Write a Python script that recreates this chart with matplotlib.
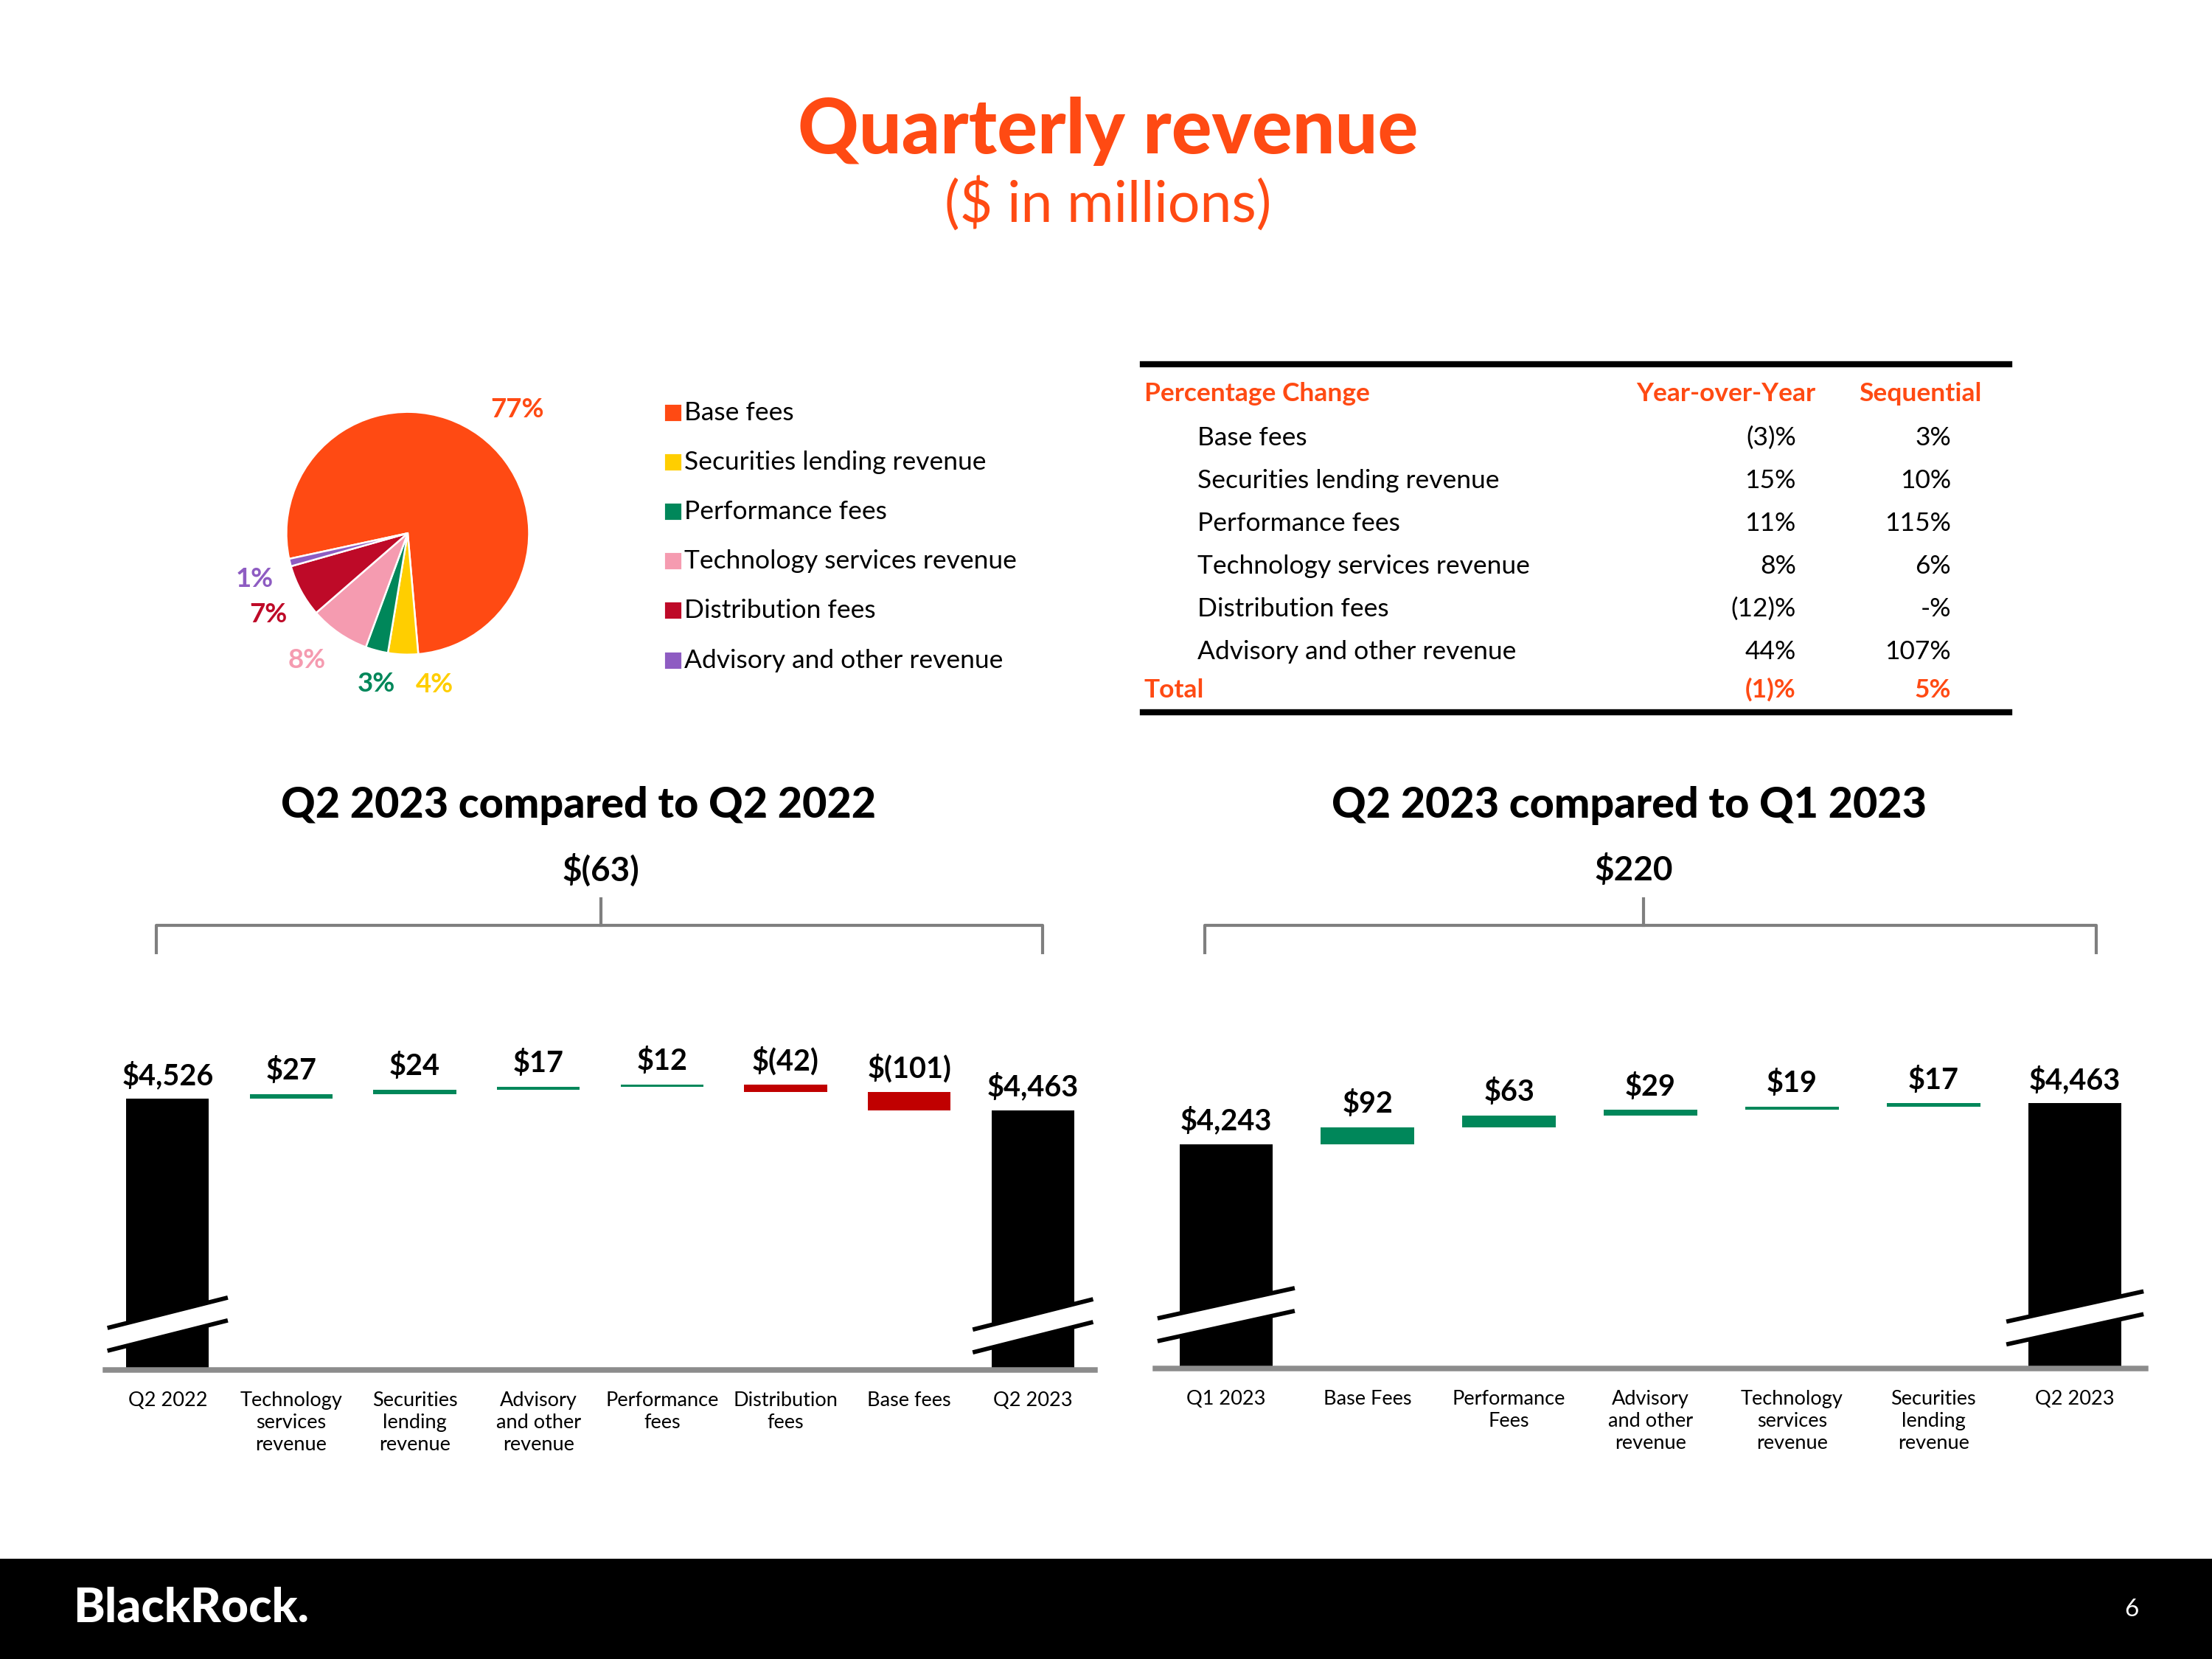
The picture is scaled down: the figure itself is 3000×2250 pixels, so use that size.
import matplotlib.pyplot as plt
import matplotlib.transforms as mtransforms
from matplotlib.lines import Line2D
from matplotlib.patches import Rectangle, Polygon
import numpy as np

plt.rcParams["font.family"] = ["Lato", "DejaVu Sans"]

ORANGE = "#FF4A13"
GREEN = "#00875A"
RED = "#C00000"
GRAY = "#8C8C8C"

# revenue mix (pie + legend)
mix_labels = ["Base fees", "Securities lending revenue", "Performance fees",
              "Technology services revenue", "Distribution fees",
              "Advisory and other revenue"]
mix_pct = [77, 4, 3, 8, 7, 1]
mix_colors = [ORANGE, "#FFCE00", "#00875A", "#F59BB0", "#BE0A28", "#8E5CC2"]

# percentage change table
yoy_pct = ["(3)%", "15%", "11%", "8%", "(12)%", "44%"]
seq_pct = ["3%", "10%", "115%", "6%", "-%", "107%"]
total_yoy = "(1)%"
total_seq = "5%"

# year-over-year walk
yoy_cats = ["Q2 2022", "Technology\nservices\nrevenue", "Securities\nlending\nrevenue",
            "Advisory\nand other\nrevenue", "Performance\nfees", "Distribution\nfees",
            "Base fees", "Q2 2023"]
yoy_start = 4526
yoy_deltas = [27, 24, 17, 12, -42, -101]
yoy_end = 4463
yoy_change = "$(63)"

# sequential walk
seq_cats = ["Q1 2023", "Base Fees", "Performance\nFees", "Advisory\nand other\nrevenue",
            "Technology\nservices\nrevenue", "Securities\nlending\nrevenue", "Q2 2023"]
seq_start = 4243
seq_deltas = [92, 63, 29, 19, 17]
seq_end = 4463
seq_change = "$220"


def money(v):
    return f"${v:,}" if v >= 0 else f"$({-v:,})"


def add_break(ax, xc, yu, rise=0.045, gap=0.07, hw=0.47):
    tr = mtransforms.blended_transform_factory(ax.transData, ax.transAxes)
    band = Polygon([(xc - hw, yu - rise - gap), (xc + hw, yu + rise - gap),
                    (xc + hw, yu + rise), (xc - hw, yu - rise)],
                   closed=True, facecolor="white", edgecolor="none",
                   transform=tr, zorder=3, clip_on=False)
    ax.add_patch(band)
    for off in (0, -gap):
        ax.add_line(Line2D([xc - hw, xc + hw], [yu - rise + off, yu + rise + off],
                           color="black", lw=1.4, transform=tr, zorder=4,
                           clip_on=False))


def waterfall(rect, cats, start, deltas, end, ylim, width, breaks):
    ax = fig.add_axes(rect)
    n = len(cats)
    cum = start + np.cumsum(deltas)
    prev = np.concatenate([[start], cum[:-1]])
    ax.bar(0, start, width=width, color="black", zorder=2)
    ax.bar(n - 1, end, width=width, color="black", zorder=2)
    ax.bar(np.arange(1, n - 1), deltas, bottom=prev, width=width,
           color=[GREEN if d > 0 else RED for d in deltas], zorder=2)
    tops = [start] + list(np.maximum(prev, cum)) + [end]
    vals = [start] + list(deltas) + [end]
    for i, (t, v) in enumerate(zip(tops, vals)):
        ax.annotate(money(v), (i, t), xytext=(0, 3), textcoords="offset points",
                    ha="center", va="bottom", fontsize=9.5, fontweight="bold",
                    annotation_clip=False)
    ax.set_xlim(-0.5, n - 0.5)
    ax.set_ylim(*ylim)
    ax.set_xticks(range(n))
    ax.set_xticklabels(cats, fontsize=6.5, linespacing=1.25)
    ax.tick_params(axis="x", length=0, pad=7)
    ax.set_yticks([])
    for s in ("left", "right", "top"):
        ax.spines[s].set_visible(False)
    ax.spines["bottom"].set_color(GRAY)
    ax.spines["bottom"].set_linewidth(1.8)
    ax.spines["bottom"].set_zorder(5)
    for xc, yu in breaks:
        add_break(ax, xc, yu)
    return ax


fig = plt.figure(figsize=(10, 7.5), dpi=300)

# title
fig.text(0.501, 0.921, "Quarterly revenue", ha="center", va="center",
         fontsize=24.5, fontweight="black", color=ORANGE)
fig.text(0.501, 0.877, "($ in millions)", ha="center", va="center",
         fontsize=18.5, color=ORANGE)

# pie
r_w, r_h = 86 / 1568, 86 / 1176
pax = fig.add_axes([289 / 1568 - r_w, 1 - 378 / 1176 - r_h, 2 * r_w, 2 * r_h])
wedges, texts = pax.pie(mix_pct, colors=mix_colors, startangle=192.2,
                        counterclock=False, labels=[f"{p}%" for p in mix_pct],
                        labeldistance=1.3,
                        wedgeprops=dict(edgecolor="white", linewidth=0.6))
label_pos = [(0.9, 1.02), (0.22, -1.25), (-0.26, -1.24), (-0.83, -1.05),
             (-1.15, -0.67), (-1.26, -0.38)]
for t, c, pos in zip(texts, mix_colors, label_pos):
    t.set_color(c)
    t.set_fontweight("bold")
    t.set_fontsize(8.8)
    t.set_ha("center")
    t.set_va("center")
    t.set_position(pos)
pax.set_xlim(-1, 1)
pax.set_ylim(-1, 1)
pax.set_aspect("auto")

# legend
leg_y = np.linspace(0.7509, 0.602, len(mix_labels))
for y, lab, c in zip(leg_y, mix_labels, mix_colors):
    fig.add_artist(Line2D([0.3042], [y], marker="s", markersize=4.3, color=c,
                          linestyle="none"))
    fig.text(0.3095, y, lab, ha="left", va="center", fontsize=8.5)

# table
FS = 8.5
for y in (0.7806, 0.5706):
    fig.add_artist(Line2D([0.5166, 0.9082], [y, y], color="black", lw=2))
fig.text(0.5172, 0.7628, "Percentage Change", ha="left", va="center",
         fontsize=FS, fontweight="bold", color=ORANGE)
fig.text(0.8208, 0.7628, "Year-over-Year", ha="right", va="center",
         fontsize=FS, fontweight="bold", color=ORANGE)
fig.text(0.896, 0.7628, "Sequential", ha="right", va="center",
         fontsize=FS, fontweight="bold", color=ORANGE)
row_y = np.linspace(0.7362, 0.6071, len(mix_labels))
for y, lab, a, b in zip(row_y, mix_labels, yoy_pct, seq_pct):
    fig.text(0.5415, y, lab, ha="left", va="center", fontsize=FS)
    fig.text(0.8119, y, a, ha="right", va="center", fontsize=FS)
    fig.text(0.882, y, b, ha="right", va="center", fontsize=FS)
fig.text(0.5172, 0.5842, "Total", ha="left", va="center", fontsize=FS,
         fontweight="bold", color=ORANGE)
fig.text(0.8119, 0.5842, total_yoy, ha="right", va="center", fontsize=FS,
         fontweight="bold", color=ORANGE)
fig.text(0.882, 0.5842, total_seq, ha="right", va="center", fontsize=FS,
         fontweight="bold", color=ORANGE)

# section headings + brackets
for xt, xv, title, chg, x0, x1, xm in [
        (0.2615, 0.2717, "Q2 2023 compared to Q2 2022", yoy_change, 0.0708, 0.4713, 0.2717),
        (0.7366, 0.7385, "Q2 2023 compared to Q1 2023", seq_change, 0.5446, 0.9477, 0.743)]:
    fig.text(xt, 0.5145, title, ha="center", va="center", fontsize=13.8,
             fontweight="black")
    fig.text(xv, 0.4755, chg, ha="center", va="center", fontsize=11,
             fontweight="bold")
    fig.add_artist(Line2D([x0, x0, x1, x1], [0.426, 0.4422, 0.4422, 0.426],
                          color="#7F7F7F", lw=1))
    fig.add_artist(Line2D([xm, xm], [0.4422, 0.4583], color="#7F7F7F", lw=1))

# waterfalls
waterfall([75 / 1568, 1 - 971 / 1176, 701 / 1568, 231 / 1176], yoy_cats,
          yoy_start, yoy_deltas, yoy_end, (3014, 3014 + 231 / 0.127), 0.67,
          [(0, 0.175), (7, 0.17)])
waterfall([819 / 1568, 1 - 970 / 1176, 702 / 1568, 231 / 1176], seq_cats,
          seq_start, seq_deltas, seq_end, (3037, 3037 + 231 / 0.1318), 0.66,
          [(0, 0.2), (6, 0.19)])

# footer
fig.add_artist(Rectangle((0, 0), 1, 0.0604, transform=fig.transFigure,
                         facecolor="black", edgecolor="none"))
fig.text(0.0332, 0.0306, "BlackRock.", ha="left", va="center", fontsize=15.5,
         fontweight="black", color="white")
fig.text(0.9636, 0.0298, "6", ha="center", va="center", fontsize=8,
         color="white")

fig.savefig("out.png", dpi=300, facecolor="white")
